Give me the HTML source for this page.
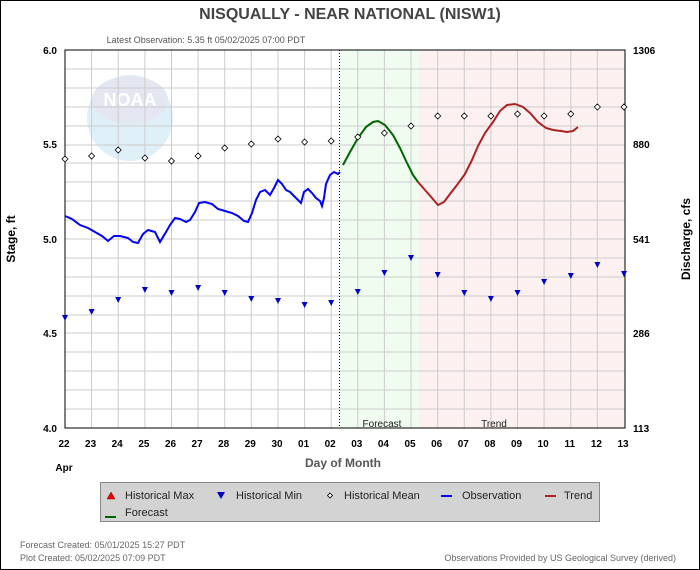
<!DOCTYPE html>
<html><head><style>body{margin:0}svg{display:block}text{font-family:"Liberation Sans",sans-serif}</style></head><body>
<svg width="700" height="570" xmlns="http://www.w3.org/2000/svg">
<rect x="0.5" y="0.5" width="699" height="569" fill="#fff" stroke="#000"/>
<text x="350" y="19" text-anchor="middle" font-size="16" font-weight="bold" fill="#444">NISQUALLY - NEAR NATIONAL  (NISW1)</text>
<text x="206" y="43" text-anchor="middle" font-size="9" fill="#555">Latest Observation: 5.35 ft 05/02/2025 07:00 PDT</text>
<rect x="340" y="50" width="79" height="378" fill="#f0fcf0"/>
<rect x="419" y="50" width="206" height="378" fill="#fdf0f0"/>
<g fill="#e6eef6" opacity="0.9"><circle cx="130" cy="118" r="43" fill="#dceef8"/><ellipse cx="130" cy="100" rx="38" ry="24" fill="#e2e4f0"/></g>
<text x="130" y="106" text-anchor="middle" font-size="18" font-weight="bold" fill="#fff">NOAA</text>
<g stroke="#ccc" stroke-width="1">
<path d="M65 69H625M65 88H625M65 107H625M65 126H625M65 145H625M65 163H625M65 182H625M65 201H625M65 220H625M65 239H625M65 258H625M65 277H625M65 296H625M65 315H625M65 333H625M65 352H625M65 371H625M65 390H625M65 409H625"/>
<path d="M91.6 50V428M118.2 50V428M144.9 50V428M171.5 50V428M198.1 50V428M224.7 50V428M251.3 50V428M278 50V428M304.6 50V428M331.2 50V428M357.8 50V428M384.4 50V428M411 50V428M437.7 50V428M464.3 50V428M490.9 50V428M517.5 50V428M544.1 50V428M570.8 50V428M597.4 50V428"/>
</g>
<line x1="339.5" y1="50" x2="339.5" y2="428" stroke="#000" stroke-dasharray="1,2"/>
<rect x="65" y="50" width="560" height="378" fill="none" stroke="#000"/>
<polyline fill="none" stroke="#0000ff" stroke-width="2" points="65,216 72,219 80,225 88,228 95,232 102,236 108,241 114,236 120,236 128,238 133,242 138,243 143,234 148,230 155,232 160,242 166,232 170,225 175,218 180,219 186,222 190,220 195,212 199,203 205,202 212,204 218,209 225,211 232,213 238,216 244,221 248,222 252,213 256,200 260,192 265,190 270,195 274,188 278,180 282,184 286,190 290,192 294,196 298,200 301,203 304,192 308,189 312,193 316,198 320,201 322,206 324,198 326,184 330,175 334,172 338,174 340,172"/>
<polyline fill="none" stroke="#006600" stroke-width="2" points="343,165 350,152 358,138 366,127 373,122 378,121 385,125 393,135 400,148 407,163 413,175 418,182"/>
<polyline fill="none" stroke="#aa2222" stroke-width="2" points="418,182 425,190 432,198 438,205 444,202 450,194 457,185 465,174 472,160 478,146 485,133 493,122 500,111 507,105 515,104 523,107 530,113 538,122 546,128 553,130 561,131 567,132 573,131 578,127"/>
<g fill="#fff" stroke="#000" stroke-width="0.8">
<path d="M65 156l3 3-3 3-3-3zM91.6 153l3 3-3 3-3-3zM118.2 147l3 3-3 3-3-3zM144.9 155l3 3-3 3-3-3zM171.5 158l3 3-3 3-3-3zM198.1 153l3 3-3 3-3-3zM224.7 145l3 3-3 3-3-3zM251.3 141l3 3-3 3-3-3zM278 136l3 3-3 3-3-3zM304.6 139l3 3-3 3-3-3zM331.2 138l3 3-3 3-3-3zM357.8 134l3 3-3 3-3-3zM384.4 130l3 3-3 3-3-3zM411 123l3 3-3 3-3-3zM437.7 113l3 3-3 3-3-3zM464.3 113l3 3-3 3-3-3zM490.9 113l3 3-3 3-3-3zM517.5 111l3 3-3 3-3-3zM544.1 113l3 3-3 3-3-3zM570.8 111l3 3-3 3-3-3zM597.4 104l3 3-3 3-3-3zM624 104l3 3-3 3-3-3z"/>
</g>
<g fill="#0000cc">
<path d="M62 315h6l-3 6zM88.6 309h6l-3 6zM115.2 297h6l-3 6zM141.9 287h6l-3 6zM168.5 290h6l-3 6zM195.1 285h6l-3 6zM221.7 290h6l-3 6zM248.3 296h6l-3 6zM275 298h6l-3 6zM301.6 302h6l-3 6zM328.2 300h6l-3 6zM354.8 289h6l-3 6zM381.4 270h6l-3 6zM408 255h6l-3 6zM434.7 272h6l-3 6zM461.3 290h6l-3 6zM487.9 296h6l-3 6zM514.5 290h6l-3 6zM541.1 279h6l-3 6zM567.8 273h6l-3 6zM594.4 262h6l-3 6zM621 271h6l-3 6z"/>
</g>
<text x="382" y="427" text-anchor="middle" font-size="10" fill="#222">Forecast</text>
<text x="494" y="427" text-anchor="middle" font-size="10" fill="#222">Trend</text>
<g font-size="10" font-weight="bold" fill="#000">
<text x="57" y="54" text-anchor="end">6.0</text><text x="57" y="148" text-anchor="end">5.5</text><text x="57" y="243" text-anchor="end">5.0</text><text x="57" y="337" text-anchor="end">4.5</text><text x="57" y="432" text-anchor="end">4.0</text>
<text x="633" y="54">1306</text><text x="633" y="148">880</text><text x="633" y="243">541</text><text x="633" y="337">286</text><text x="633" y="432">113</text>
</g>
<g font-size="10" font-weight="bold" fill="#000" text-anchor="middle">
<text x="64" y="447">22</text><text x="90.6" y="447">23</text><text x="117.2" y="447">24</text><text x="143.9" y="447">25</text><text x="170.5" y="447">26</text><text x="197.1" y="447">27</text><text x="223.7" y="447">28</text><text x="250.3" y="447">29</text><text x="277" y="447">30</text><text x="303.6" y="447">01</text><text x="330.2" y="447">02</text><text x="356.8" y="447">03</text><text x="383.4" y="447">04</text><text x="410" y="447">05</text><text x="436.7" y="447">06</text><text x="463.3" y="447">07</text><text x="489.9" y="447">08</text><text x="516.5" y="447">09</text><text x="543.1" y="447">10</text><text x="569.8" y="447">11</text><text x="596.4" y="447">12</text><text x="623" y="447">13</text>
</g>
<text x="64" y="471" text-anchor="middle" font-size="10" font-weight="bold">Apr</text>
<text x="343" y="467" text-anchor="middle" font-size="12" font-weight="bold" fill="#555">Day of Month</text>
<text transform="translate(15,239) rotate(-90)" text-anchor="middle" font-size="12" font-weight="bold">Stage, ft</text>
<text transform="translate(690,239) rotate(-90)" text-anchor="middle" font-size="12" font-weight="bold">Discharge, cfs</text>
<rect x="100.5" y="482.5" width="499" height="39" fill="#d3d3d3" stroke="#888"/>
<g font-size="11" fill="#222">
<path d="M107 499l4-7 4 7z" fill="#e00" stroke="#800" stroke-width="0.5"/><text x="125" y="499">Historical Max</text>
<path d="M217 492h8l-4 7z" fill="#0000cc"/><text x="236" y="499">Historical Min</text>
<path d="M330 493l2.5 2.5-2.5 2.5-2.5-2.5z" fill="#fff" stroke="#000" stroke-width="0.8"/><text x="344" y="499">Historical Mean</text>
<rect x="441" y="495" width="11" height="2" fill="#0000ff"/><text x="462" y="499">Observation</text>
<rect x="545" y="495" width="11" height="2" fill="#aa2222"/><text x="564" y="499">Trend</text>
<rect x="105" y="517" width="11" height="2" fill="#006600" transform="translate(0,-1)"/><text x="125" y="516">Forecast</text>
</g>
<g font-size="9" fill="#666">
<text x="20" y="548">Forecast Created: 05/01/2025 15:27 PDT</text>
<text x="20" y="561">Plot Created: 05/02/2025 07:09 PDT</text>
<text x="676" y="561" text-anchor="end">Observations Provided by US Geological Survey (derived)</text>
</g>
</svg>
</body></html>
